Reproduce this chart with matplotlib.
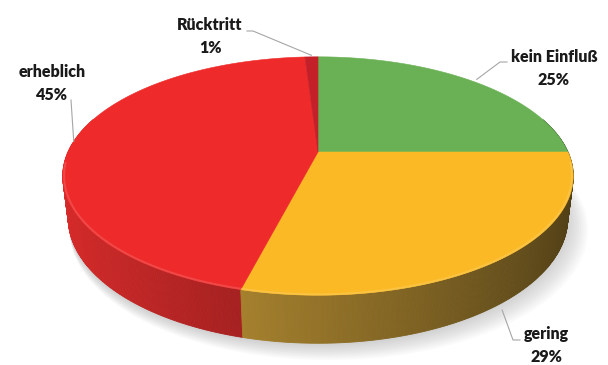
import numpy as np
import matplotlib.pyplot as plt
import matplotlib.colors as mc
from matplotlib.patches import Polygon

# data
labels = ['kein Einfluß', 'gering', 'erheblich', 'Rücktritt']
values = [25, 29, 45, 1]
pct_labels = ['25%', '29%', '45%', '1%']
colors = ['#6ab155', '#fbba25', '#ee2b2a', '#c3202a']

# 3d view (Excel style perspective pie)
elev = np.radians(28)
dist = 4.38
thick = 0.197
sx_px, sy_px = 250, 243.6
cx, cy = 318, 152

def proj(theta, r=1.0, h=0.0):
	t = np.radians(theta)
	u, v = r*np.sin(t), r*np.cos(t)
	depth = dist + v*np.cos(elev) - h*np.sin(elev)
	x = u*dist/depth
	y = (v*np.sin(elev) + h*np.cos(elev))*dist/depth
	return cx + x*sx_px, cy - y*sy_px

def shade(c, theta):
	f = np.clip(0.64 - 0.30*np.sin(np.radians(theta)), 0, 1)
	base = np.array(mc.to_rgb(c))
	rgb = base*f
	# yellow goes olive/brown when darkened, red stays vivid
	w = 0.3*base[1]
	grey = rgb.mean()
	return tuple(rgb*(1-w) + grey*w)

def lighten(c, a):
	rgb = np.array(mc.to_rgb(c))
	return tuple(rgb + (1-rgb)*a)

fig = plt.figure(figsize=(6.08, 3.65), dpi=100)
ax = fig.add_axes([0, 0, 1, 1])
ax.set_xlim(0, 608)
ax.set_ylim(365, 0)
ax.axis('off')

bounds = np.concatenate([[0], np.cumsum(values)])/np.sum(values)*360

# soft shadow under the pie
th_all = np.linspace(0, 360, 361)
for k in range(10):
	pts = [proj(t, r=1.0+0.004*k, h=-thick) for t in th_all]
	pts = [(x + 1.2*k, y + 2 + 0.9*k) for x, y in pts]
	ax.add_patch(Polygon(pts, closed=True, facecolor='#808080', edgecolor='none', alpha=0.04, zorder=1))

# side walls
quads = []
for i in range(len(values)):
	a0, a1 = bounds[i], bounds[i+1]
	th = np.linspace(a0, a1, max(int((a1-a0)/0.5), 2)+1)
	for t0, t1 in zip(th[:-1], th[1:]):
		tm = (t0+t1)/2
		if np.cos(np.radians(tm)) > 0.3:
			continue
		pts = [proj(t0), proj(t1), proj(t1, h=-thick), proj(t0, h=-thick)]
		quads.append((np.cos(np.radians(tm)), pts, shade(colors[i], tm)))
quads.sort(key=lambda q: -q[0])
for _, pts, col in quads:
	ax.add_patch(Polygon(pts, closed=True, facecolor=col, edgecolor=col, linewidth=0.6, zorder=2))

# top faces
for i in range(len(values)):
	a0, a1 = bounds[i], bounds[i+1]
	th = np.linspace(a0, a1, max(int((a1-a0)/0.5), 2)+1)
	pts = [(cx, cy)] + [proj(t) for t in th]
	ax.add_patch(Polygon(pts, closed=True, facecolor=colors[i], edgecolor=colors[i], linewidth=0.4, zorder=3))
	# bevel highlight on the front rim
	lo, hi = max(a0, 95), min(a1, 265)
	if hi > lo:
		tt = np.linspace(lo, hi, 100)
		xy = np.array([proj(t, r=0.995) for t in tt])
		ax.plot(xy[:, 0], xy[:, 1], color=lighten(colors[i], 0.2), lw=1.4, alpha=0.7, zorder=4, solid_capstyle='butt')

# labels
font = dict(family=['Lato', 'DejaVu Sans'], weight='heavy', size=11.5, color='#1a1a1a', ha='center', va='center')
text_pos = [(554, 57), (546, 334), (52, 72), (210, 25)]
elbows = [[(507, 62), (500, 62)], [(520, 340), (513, 340)], [(71, 100)], [(247, 31), (253, 31)]]
anchor = [(1.03, 0.0), (1.03, -thick), (1.0, 0.0), (1.02, 0.0)]
for i in range(len(values)):
	x, y = text_pos[i]
	ax.text(x, y, labels[i], zorder=6, **font)
	ax.text(x, y+23, pct_labels[i], zorder=6, **font)
	mid = (bounds[i]+bounds[i+1])/2
	r, h = anchor[i]
	pts = elbows[i] + [proj(mid, r=r, h=h)]
	pts = np.array(pts)
	ax.plot(pts[:, 0], pts[:, 1], color='#a6a6a6', lw=0.8, zorder=5)

plt.savefig('out.png', dpi=100)
